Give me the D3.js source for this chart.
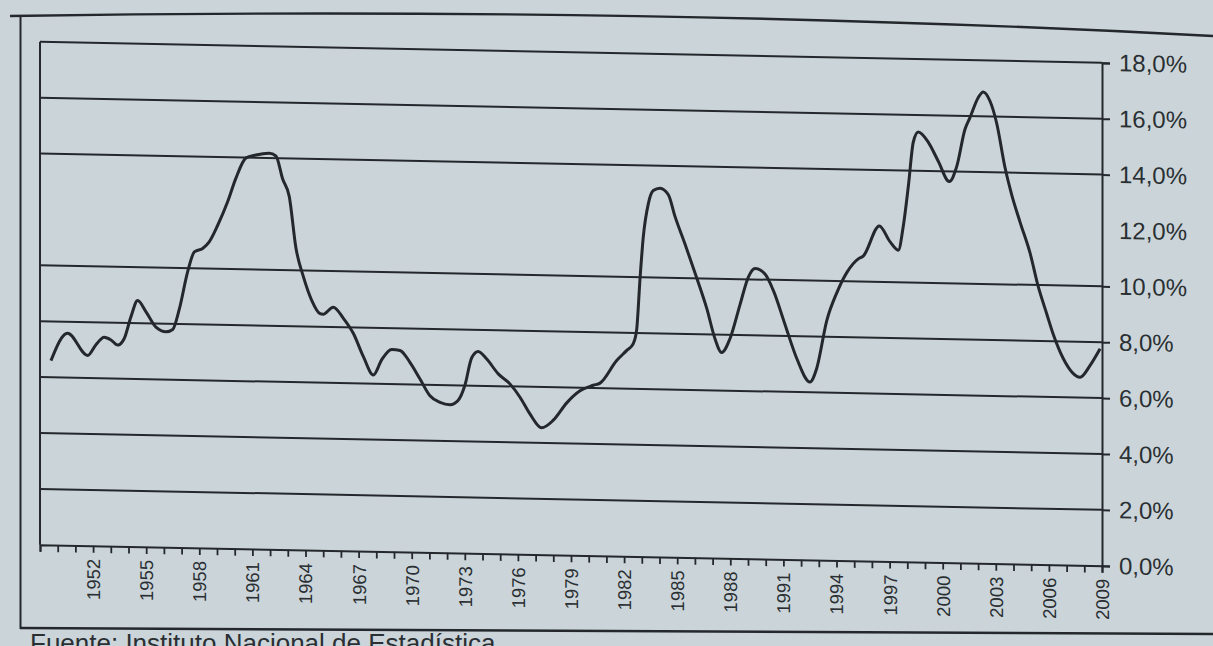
<!DOCTYPE html>
<html>
<head>
<meta charset="utf-8">
<script src="https://cdn.jsdelivr.net/npm/d3@7"></script>
<style>
html, body { margin: 0; padding: 0; background: #cbd5d9; }
svg { display: block; }
text { font-family: "Liberation Sans", Arial, sans-serif; fill: #2a2f33; }
</style>
</head>
<body>
<svg id="chart" width="1213" height="646"></svg>
<script>
// years (fractional) and rate in %
var years = [1949.62, 1950.56, 1951.69, 1952.16, 1952.63, 1953.01, 1953.39, 1953.76, 1954.14, 1954.52,
             1954.99, 1955.55, 1956.12, 1956.5, 1956.87, 1957.34, 1957.72, 1958.19, 1958.56, 1959.04,
             1959.6, 1960.07, 1960.64, 1961.2, 1961.95, 1962.33, 1962.71, 1963.08, 1963.46, 1963.88,
             1964.35, 1964.82, 1964.99, 1965.57, 1966.14, 1966.7, 1967.27, 1967.83, 1968.31, 1968.87,
             1969.34, 1969.9, 1970.47, 1971.03, 1971.6, 1972.16, 1972.63, 1973.01, 1973.39, 1973.76,
             1974.24, 1974.89, 1975.55, 1976.12, 1976.68, 1977.34, 1978.0, 1978.76, 1979.51, 1980.26,
             1980.64, 1981.58, 1982.15, 1982.52, 1982.71, 1982.9, 1983.08, 1983.37, 1983.65, 1984.03,
             1984.5, 1984.88, 1985.44, 1986.1, 1986.67, 1987.14, 1987.51, 1987.98, 1988.55, 1989.02,
             1989.4, 1989.96, 1990.43, 1991.09, 1991.75, 1992.5, 1992.88, 1993.45, 1994.01, 1994.58,
             1995.23, 1995.51, 1996.42, 1997.02, 1997.49, 1997.77, 1998.06, 1998.34, 1998.62, 1999.19,
             1999.75, 2000.37, 2000.79, 2001.26, 2001.54, 2002.01, 2002.29, 2002.67, 2003.05, 2003.52,
             2003.9, 2004.37, 2004.93, 2005.4, 2005.88, 2006.25, 2006.81, 2007.76, 2008.32, 2008.89];

var rates = [6.6, 7.59, 6.81, 7.2, 7.47, 7.38, 7.2, 7.44, 8.23, 8.81,
             8.41, 7.87, 7.71, 7.8, 8.53, 9.87, 10.59, 10.72, 10.96, 11.56,
             12.41, 13.26, 13.99, 14.1, 14.17, 14.08, 13.26, 12.65, 10.8, 9.78,
             8.94, 8.47, 8.45, 8.71, 8.32, 7.79, 6.96, 6.31, 6.87, 7.24,
             7.21, 6.79, 6.2, 5.61, 5.38, 5.3, 5.47, 6.02, 7.0, 7.23,
             6.96, 6.44, 6.09, 5.62, 5.03, 4.54, 4.82, 5.45, 5.89, 6.1,
             6.18, 7.0, 7.37, 7.62, 8.12, 9.95, 11.42, 12.64, 13.11, 13.2,
             12.97, 12.19, 11.22, 10.02, 8.93, 7.84, 7.36, 7.86, 9.09, 10.08,
             10.39, 10.2, 9.62, 8.41, 7.21, 6.37, 6.86, 8.58, 9.57, 10.31,
             10.81, 10.91, 12.0, 11.45, 11.15, 12.0, 13.45, 15.03, 15.39, 15.03,
             14.36, 13.64, 14.18, 15.52, 15.94, 16.67, 16.87, 16.55, 15.76, 14.18,
             13.21, 12.24, 11.15, 9.94, 8.97, 8.24, 7.39, 6.73, 7.15, 7.76];

var yTickValues = [0, 2, 4, 6, 8, 10, 12, 14, 16, 18];
var gridValues = [2, 4, 6, 8, 10, 14, 16, 18];   // the 12% line is not printed in the original
var xLabelYears = [1952, 1955, 1958, 1961, 1964, 1967, 1970, 1973, 1976, 1979,
                   1982, 1985, 1988, 1991, 1994, 1997, 2000, 2003, 2006, 2009];

var data = years.map(function (d, i) { return {year: d, rate: rates[i]}; });

var svg = d3.select("#chart");
var ink = "#24282c";

var plotLeft = 40, plotRight = 1102, plotTop = 41, plotBottom = 544;

// outer frame of the figure
svg.append("path")
    .attr("d", "M10,16 Q650,6 1213,36")
    .attr("stroke", ink).attr("stroke-width", 2.4).attr("fill", "none");
svg.append("line")
    .attr("x1", 20.5).attr("x2", 20.5).attr("y1", 15).attr("y2", 629)
    .attr("stroke", ink).attr("stroke-width", 2);
svg.append("path")
    .attr("d", "M20,628 L1213,634")
    .attr("stroke", ink).attr("stroke-width", 2.4).attr("fill", "none");

svg.append("text")
    .attr("x", 30).attr("y", 652)
    .style("font-size", "26px")
    .text("Fuente: Instituto Nacional de Estadística");

// the photographed page is slightly sheared, lines drop towards the right
var g = svg.append("g").attr("transform", "skewY(1.13)");

var x = d3.scaleLinear().domain([1949, 2009]).range([plotLeft, plotRight]);
var y = d3.scaleLinear().domain([0, 18]).range([plotBottom, plotTop]);

// gridlines
g.selectAll(".grid")
    .data(gridValues)
    .enter().append("line")
    .attr("class", "grid")
    .attr("x1", plotLeft).attr("x2", plotRight)
    .attr("y1", function (d) { return y(d); })
    .attr("y2", function (d) { return y(d); })
    .attr("stroke", ink).attr("stroke-width", 2);

// left edge of plot area
g.append("line")
    .attr("x1", plotLeft).attr("x2", plotLeft).attr("y1", y(18)).attr("y2", y(0))
    .attr("stroke", ink).attr("stroke-width", 2);

// right value axis
var yAxis = d3.axisRight(y)
    .tickValues(yTickValues)
    .tickSize(8)
    .tickPadding(9)
    .tickFormat(function (d) { return d3.format(".1f")(d).replace(".", ",") + "%"; });

var ya = g.append("g")
    .attr("transform", "translate(" + plotRight + ",0)")
    .call(yAxis);
ya.select(".domain").attr("stroke", ink).attr("stroke-width", 2);
ya.selectAll(".tick line").attr("stroke", ink).attr("stroke-width", 2)
    .attr("display", function (d) { return d === 12 ? "none" : null; });
ya.selectAll(".tick text").style("font-size", "24px").attr("fill", "#2a2f33");

// bottom category axis, a tick every year
var xAxis = d3.axisBottom(x)
    .tickValues(d3.range(1949, 2010))
    .tickSize(7)
    .tickFormat(function (d) { return xLabelYears.indexOf(d) >= 0 ? d : ""; });

var xa = g.append("g")
    .attr("transform", "translate(0," + plotBottom + ")")
    .call(xAxis);
xa.select(".domain").attr("stroke", ink).attr("stroke-width", 2);
xa.selectAll(".tick line").attr("stroke", ink).attr("stroke-width", 1.8);
xa.selectAll(".tick text")
    .style("font-size", "18.5px")
    .attr("fill", "#2a2f33")
    .attr("text-anchor", "end")
    .attr("transform", "rotate(-90)")
    .attr("x", -13)
    .attr("y", 0)
    .attr("dy", "0.35em");

// the series
var line = d3.line()
    .x(function (d) { return x(d.year); })
    .y(function (d) { return y(d.rate); })
    .curve(d3.curveMonotoneX);

g.append("path")
    .datum(data)
    .attr("d", line)
    .attr("fill", "none")
    .attr("stroke", ink)
    .attr("stroke-width", 3)
    .attr("stroke-linejoin", "round");
</script>
</body>
</html>
